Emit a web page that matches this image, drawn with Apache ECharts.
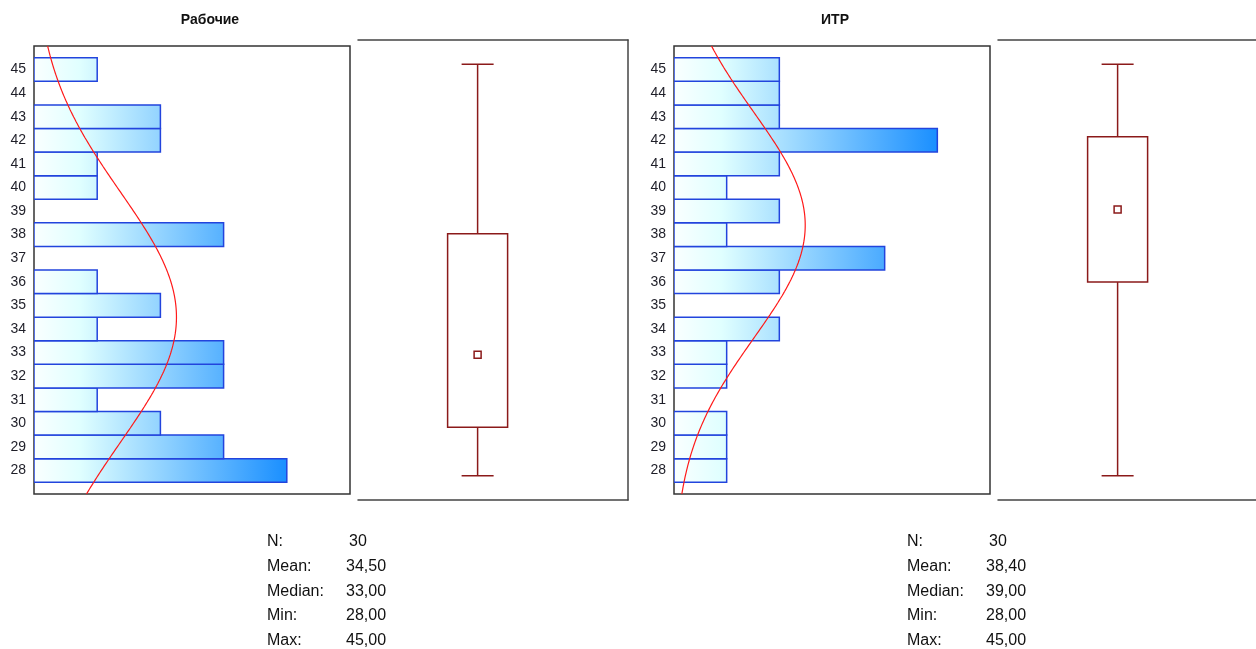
<!DOCTYPE html>
<html>
<head>
<meta charset="utf-8">
<script src="https://cdn.jsdelivr.net/npm/echarts@6/dist/echarts.min.js"></script>
<style>
  html, body { margin: 0; padding: 0; background: #ffffff; }
  #chart { width: 1256px; height: 649px; }
</style>
</head>
<body>
<div id="chart"></div>
<script>
// Score bins shown on the vertical axis (28 … 45)
const scoreBins = [28, 29, 30, 31, 32, 33, 34, 35, 36, 37, 38, 39, 40, 41, 42, 43, 44, 45];

// Frequencies per bin, in the same order as scoreBins
const workersCounts = [4, 3, 2, 1, 3, 3, 1, 2, 1, 0, 3, 0, 1, 1, 2, 2, 0, 1];
const engineersCounts = [1, 1, 1, 0, 1, 1, 2, 0, 2, 4, 1, 2, 1, 2, 5, 2, 2, 2];

// Group titles
const groupNames = ['Рабочие', 'ИТР'];

// Box summaries: [min, Q1, median, Q3, max]
const workersBox = [28, 30, 33, 38, 45];
const engineersBox = [28, 36, 39, 42, 45];

// Sample size and mean of each group
const groupN = [30, 30];
const groupMean = [34.5, 38.4];

// Captions of the summary block
const statLabels = ['N:', 'Mean:', 'Median:', 'Min:', 'Max:'];

const FONT = '"Liberation Sans", Arial, sans-serif';
const BAR_BORDER = '#2244dd';
const BOX_COLOR = '#8b1a1a';
const FRAME_COLOR = '#333333';
const PANEL_W = 270;             // nominal width of a box-plot panel, px
const BOX_POS = 0.443;           // horizontal place of the box inside its panel (share of PANEL_W)
const BOX_HALF_PX = 30;          // half width of the box, px
const CAP_HALF_PX = 16;          // half width of the whisker caps, px

const chart = echarts.init(document.getElementById('chart'), null, { renderer: 'canvas' });

// Sample standard deviation from a frequency table
function sampleSd(counts, mean) {
  let ss = 0, n = 0;
  counts.forEach((c, i) => { ss += c * Math.pow(scoreBins[i] - mean, 2); n += c; });
  return Math.sqrt(ss / (n - 1));
}

// Fitted normal curve, scaled to counts per unit-wide bin
function normalCurve(counts, mean) {
  const sd = sampleSd(counts, mean);
  const n = counts.reduce((a, b) => a + b, 0);
  const pts = [];
  for (let k = 0; k <= 190; k++) {
    const y = 27 + k * 0.1;
    const z = (y - mean) / sd;
    pts.push([n / (sd * Math.sqrt(2 * Math.PI)) * Math.exp(-0.5 * z * z), y]);
  }
  return pts;
}

function histSeries(idx, counts) {
  const maxCount = Math.max.apply(null, counts);
  return {
    type: 'custom',
    xAxisIndex: idx, yAxisIndex: idx,
    clip: true,
    data: scoreBins.map((b, i) => [counts[i], b]).filter(d => d[0] > 0),
    renderItem(params, api) {
      const c = api.value(0), b = api.value(1);
      const p0 = api.coord([0, b + 0.5]);
      const p1 = api.coord([c, b - 0.5]);
      const g0 = api.coord([0, b]);
      const g1 = api.coord([maxCount, b]);
      return {
        type: 'rect',
        shape: { x: p0[0], y: p0[1], width: p1[0] - p0[0], height: p1[1] - p0[1] },
        style: {
          fill: new echarts.graphic.LinearGradient(g0[0], 0, g1[0], 0, [
            { offset: 0, color: '#faffff' },
            { offset: 0.18, color: '#e0ffff' },
            { offset: 1, color: '#1a8fff' }
          ], true),
          stroke: BAR_BORDER,
          lineWidth: 1.5
        }
      };
    },
    z: 2
  };
}

function curveSeries(idx, counts, mean) {
  return {
    type: 'line',
    xAxisIndex: idx, yAxisIndex: idx,
    data: normalCurve(counts, mean),
    showSymbol: false,
    smooth: false,
    lineStyle: { color: '#ff1a1a', width: 1.2 },
    z: 3,
    silent: true
  };
}

function boxSeries(xIdx, yIdx, box) {
  return {
    type: 'custom',
    xAxisIndex: xIdx, yAxisIndex: yIdx,
    data: [[BOX_POS].concat(box)],
    renderItem(params, api) {
      const x = api.value(0);
      const mn = api.coord([x, api.value(1)]);
      const q1 = api.coord([x, api.value(2)]);
      const md = api.coord([x, api.value(3)]);
      const q3 = api.coord([x, api.value(4)]);
      const mx = api.coord([x, api.value(5)]);
      const cx = mn[0];
      const ls = { stroke: BOX_COLOR, lineWidth: 1.5, fill: null };
      return {
        type: 'group',
        children: [
          { type: 'line', shape: { x1: cx, y1: mx[1], x2: cx, y2: q3[1] }, style: ls },
          { type: 'line', shape: { x1: cx, y1: q1[1], x2: cx, y2: mn[1] }, style: ls },
          { type: 'line', shape: { x1: cx - CAP_HALF_PX, y1: mx[1], x2: cx + CAP_HALF_PX, y2: mx[1] }, style: ls },
          { type: 'line', shape: { x1: cx - CAP_HALF_PX, y1: mn[1], x2: cx + CAP_HALF_PX, y2: mn[1] }, style: ls },
          { type: 'rect', shape: { x: cx - BOX_HALF_PX, y: q3[1], width: 2 * BOX_HALF_PX, height: q1[1] - q3[1] },
            style: { stroke: BOX_COLOR, lineWidth: 1.5, fill: '#ffffff' } },
          { type: 'rect', shape: { x: cx - 3.5, y: md[1] - 3.5, width: 7, height: 7 },
            style: { stroke: BOX_COLOR, lineWidth: 1.5, fill: '#ffffff' } }
        ]
      };
    }
  };
}

// Panel geometry (px)
const histLeft = [34, 674];
const boxLeft = [358, 998];
const CANVAS_W = 1256;

const grids = [], xAxes = [], yAxes = [];

// Histogram panels: grid indices 0 and 1
histLeft.forEach((left, i) => {
  grids.push({ left: left, top: 46, width: 316, height: 448, show: true,
    borderColor: FRAME_COLOR, borderWidth: 1.5, backgroundColor: 'transparent' });
  const counts = i === 0 ? workersCounts : engineersCounts;
  xAxes.push({ gridIndex: i, type: 'value', min: 0, max: Math.max.apply(null, counts) + 1, show: false });
  yAxes.push({
    gridIndex: i, type: 'value', min: 27, max: 46, interval: 1,
    axisLine: { show: false }, axisTick: { show: false }, splitLine: { show: false },
    axisLabel: {
      margin: 8, fontSize: 14, fontFamily: FONT, color: '#1e1e28',
      formatter: v => (v >= scoreBins[0] && v <= scoreBins[scoreBins.length - 1]) ? String(v) : ''
    }
  });
});

// Box-plot panels: grid indices 2 and 3 (frame on top, bottom and right).
// The right panel runs off the canvas edge, so its visible width is shorter.
const frameLine = { show: true, onZero: false, lineStyle: { color: '#444444', width: 1.5 } };
const boxXMax = [];
boxLeft.forEach((left, i) => {
  const w = Math.min(PANEL_W, CANVAS_W - left);
  boxXMax.push(w / PANEL_W);
  grids.push({ left: left, top: 40, width: w, height: 460 });
  const g = 2 + i;
  xAxes.push({ gridIndex: g, type: 'value', min: 0, max: w / PANEL_W, position: 'bottom',
    axisLine: frameLine, axisTick: { show: false }, axisLabel: { show: false }, splitLine: { show: false } });
  yAxes.push({ gridIndex: g, type: 'value', min: 27, max: 46, position: 'right',
    axisLine: Object.assign({}, frameLine, { show: w === PANEL_W }),
    axisTick: { show: false }, axisLabel: { show: false }, splitLine: { show: false } });
});
// top edges of the box-plot frames
[2, 3].forEach((g, i) => {
  xAxes.push({ gridIndex: g, type: 'value', min: 0, max: boxXMax[i], position: 'top',
    axisLine: frameLine, axisTick: { show: false }, axisLabel: { show: false }, splitLine: { show: false } });
});

function fmt(v) { return v.toFixed(2).replace('.', ','); }

// Titles and the summary text blocks
const graphics = [];
const titleX = [210, 835];
const statX = [267, 907];
const valueX = [346, 986];
const boxes = [workersBox, engineersBox];
groupNames.forEach((name, i) => {
  graphics.push({ type: 'text', x: titleX[i], y: 20,
    style: { text: name, font: 'bold 14px ' + FONT, fill: '#111111', textAlign: 'center', textVerticalAlign: 'middle' } });
  const b = boxes[i];
  const vals = [String(groupN[i]), fmt(groupMean[i]), fmt(b[2]), fmt(b[0]), fmt(b[4])];
  statLabels.forEach((lab, k) => {
    const y = 541.5 + k * 24.8;
    graphics.push({ type: 'text', x: statX[i], y: y,
      style: { text: lab, font: '16px ' + FONT, fill: '#111111', textAlign: 'left', textVerticalAlign: 'middle' } });
    graphics.push({ type: 'text', x: valueX[i] + (k === 0 ? 3 : 0), y: y,
      style: { text: vals[k], font: '16px ' + FONT, fill: '#111111', textAlign: 'left', textVerticalAlign: 'middle' } });
  });
});

chart.setOption({
  animation: false,
  backgroundColor: '#ffffff',
  grid: grids,
  xAxis: xAxes,
  yAxis: yAxes,
  series: [
    histSeries(0, workersCounts),
    curveSeries(0, workersCounts, groupMean[0]),
    histSeries(1, engineersCounts),
    curveSeries(1, engineersCounts, groupMean[1]),
    boxSeries(2, 2, workersBox),
    boxSeries(3, 3, engineersBox)
  ],
  graphic: graphics
});
</script>
</body>
</html>
